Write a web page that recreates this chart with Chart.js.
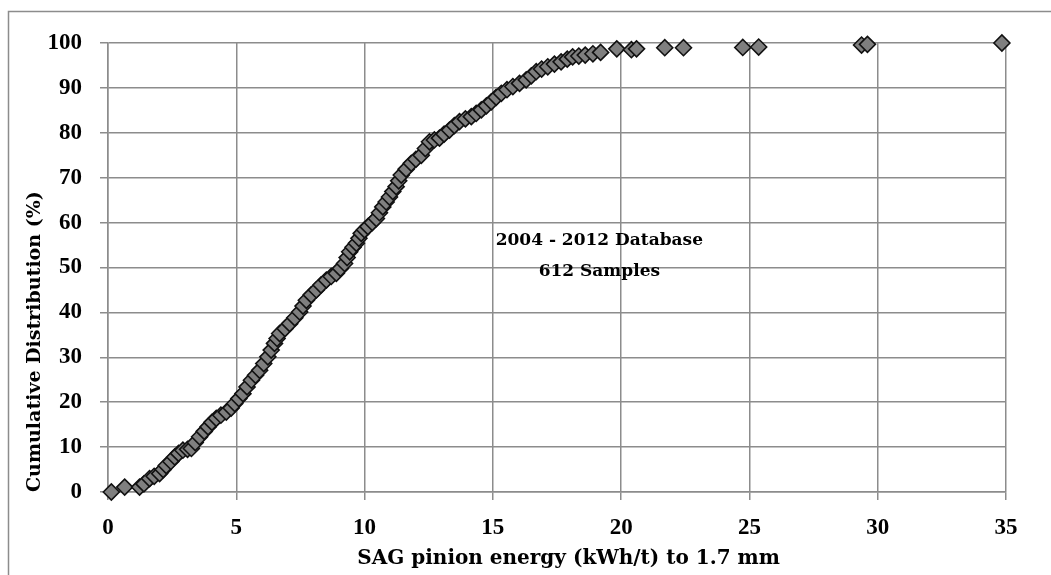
<!DOCTYPE html>
<html>
<head>
<meta charset="utf-8">
<script src="https://cdn.jsdelivr.net/npm/chart.js@4.4.1/dist/chart.umd.min.js"></script>
<style>
  body { margin: 0; background: #fff; }
  canvas { display: block; }
</style>
</head>
<body>
<canvas id="cdfChart" width="1051" height="575"></canvas>
<script>
// SAG pinion energy (kWh/t) to 1.7 mm
var energy = [0.13, 0.65, 1.23, 1.4, 1.62, 1.8, 2.01, 2.15, 2.27, 2.45, 2.6, 2.75, 2.92, 3.1, 3.25, 3.4, 3.57, 3.75, 3.9,
  4.05, 4.22, 4.4, 4.61, 4.8, 4.94, 5.1, 5.26, 5.42, 5.59, 5.75, 5.91, 6.07, 6.23, 6.36, 6.49, 6.59, 6.69, 6.9,
  7.08, 7.28, 7.47, 7.6, 7.73, 7.92, 8.12, 8.3, 8.51, 8.7, 8.9, 9.06, 9.22, 9.32, 9.42, 9.55, 9.68, 9.78, 9.87,
  10.0, 10.13, 10.3, 10.46, 10.58, 10.71, 10.84, 10.97, 11.1, 11.23, 11.33, 11.43, 11.62, 11.82, 12.0, 12.21,
  12.37, 12.53, 12.72, 12.92, 13.1, 13.31, 13.5, 13.7, 13.93, 14.16, 14.35, 14.55, 14.75, 14.94, 15.13, 15.33,
  15.55, 15.78, 16.04, 16.3, 16.5, 16.69, 16.9, 17.14, 17.4, 17.66, 17.9, 18.11, 18.35, 18.6, 18.9, 19.2,
  19.83, 20.4, 20.6, 21.7, 22.43, 24.74, 25.36, 29.37, 29.6, 34.84]
// cumulative distribution (%)
var cumPct = [0, 1.1, 1.1, 1.8, 3.0, 3.5, 4.1, 5.0, 5.9, 6.8, 7.8, 8.6, 9.3, 9.5, 9.7, 11.0, 12.3, 13.5, 14.5,
  15.5, 16.4, 17.1, 17.8, 18.7, 19.7, 20.8, 21.9, 23.4, 24.9, 26.0, 27.1, 28.6, 30.1, 31.6, 33.1, 34.2, 35.3, 36.4,
  37.5, 38.8, 40.1, 41.4, 42.7, 43.9, 45.0, 46.1, 47.2, 48.0, 48.7, 49.8, 50.9, 52.2, 53.5, 54.5, 55.4, 56.5, 57.6,
  58.4, 59.1, 60.0, 60.9, 62.2, 63.5, 64.6, 65.7, 66.9, 68.0, 69.3, 70.6, 71.9, 73.2, 74.1, 75.0,
  76.5, 78.0, 78.4, 78.8, 79.7, 80.6, 81.6, 82.5, 83.1, 83.6, 84.3, 85.1, 86.0, 86.9, 87.9, 88.8,
  89.6, 90.3, 91.0, 91.8, 92.7, 93.6, 94.2, 94.7, 95.3, 95.8, 96.4, 96.9, 97.1, 97.3, 97.6, 97.9,
  98.7, 98.5, 98.7, 98.95, 98.95, 99.0, 99.1, 99.55, 99.7, 100]
var xTicks = [0, 5, 10, 15, 20, 25, 30, 35]
var yTicks = [0, 10, 20, 30, 40, 50, 60, 70, 80, 90, 100]
var xTitle = 'SAG pinion energy (kWh/t) to 1.7 mm'
var yTitle = 'Cumulative Distribution (%)'
var noteLines = ['2004 - 2012 Database', '612 Samples']
var noteAt = {x: 19.15, y: [56.1, 49.0]}

var points = energy.map(function (e, i) { return {x: e, y: cumPct[i]} })
var gridCol = '#8c8c8c'
var tickFont = "'Liberation Serif', serif"
var textFont = "'DejaVu Serif', serif"

var frame = {
  id: 'frame',
  beforeDraw: function (chart) {
    var c = chart.ctx
    c.save()
    c.strokeStyle = gridCol
    c.lineWidth = 1.5
    c.beginPath()
    c.moveTo(8.5, 575)
    c.lineTo(8.5, 11.5)
    c.lineTo(1051, 11.5)
    c.stroke()
    c.restore()
  },
  afterDatasetsDraw: function (chart) {
    var c = chart.ctx
    var xs = chart.scales.x, ys = chart.scales.y
    c.save()
    c.fillStyle = '#000'
    c.textAlign = 'center'
    c.textBaseline = 'middle'
    c.font = 'bold 17px ' + textFont
    noteLines.forEach(function (t, i) {
      c.fillText(t, xs.getPixelForValue(noteAt.x), ys.getPixelForValue(noteAt.y[i]))
    })
    // x axis title sits a little right of the plot centre
    c.font = 'bold 20px ' + textFont
    c.fillText(xTitle, xs.getPixelForValue(17.95), 559)
    c.restore()
  }
}

var ctx = document.getElementById('cdfChart').getContext('2d')
var cdfChart = new Chart(ctx, {
  type: 'scatter',
  data: {
    datasets: [{
      data: points,
      pointStyle: 'rectRot',
      pointRadius: 8,
      pointBackgroundColor: '#7f7f7f',
      pointBorderColor: '#111',
      pointBorderWidth: 1.6,
      clip: false
    }]
  },
  options: {
    responsive: false,
    animation: false,
    layout: { padding: { left: 0, top: 43, right: 45, bottom: 0 } },
    plugins: { legend: { display: false }, tooltip: { enabled: false } },
    scales: {
      x: {
        type: 'linear', min: 0, max: 35,
        afterBuildTicks: function (s) { s.ticks = xTicks.map(function (v) { return {value: v} }) },
        afterFit: function (s) { s.height = 83 },
        grid: { color: gridCol, lineWidth: 1.5, tickLength: 8 },
        border: { color: gridCol, width: 1.5 },
        ticks: { color: '#000', font: { family: tickFont, size: 23, weight: 'bold' }, padding: 14, maxRotation: 0 }
      },
      y: {
        type: 'linear', min: 0, max: 100,
        afterBuildTicks: function (s) { s.ticks = yTicks.map(function (v) { return {value: v} }) },
        afterFit: function (s) { s.width = 108 },
        grid: { color: gridCol, lineWidth: 1.5, tickLength: 8 },
        border: { color: gridCol, width: 1.5 },
        ticks: { color: '#000', font: { family: tickFont, size: 23, weight: 'bold' }, padding: 18 },
        title: { display: true, text: yTitle, color: '#000', align: 'start',
          font: { family: textFont, size: 19, weight: 'bold' }, padding: { top: 24, bottom: 0 } }
      }
    }
  },
  plugins: [frame]
})
</script>
</body>
</html>
